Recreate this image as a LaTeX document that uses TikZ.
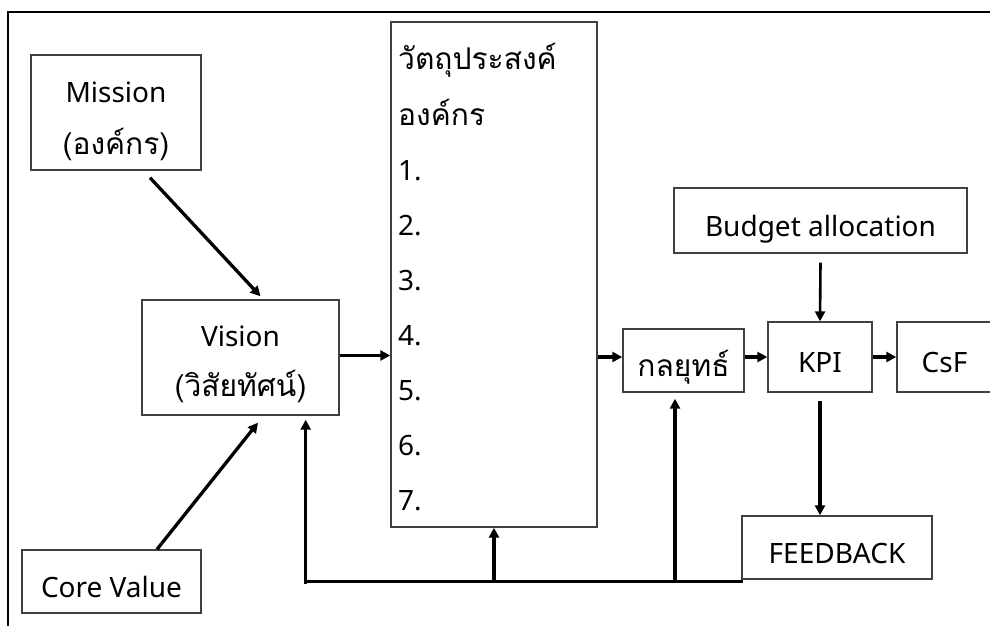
\documentclass[tikz,border=0pt]{standalone}
\usepackage{fontspec}
\setmainfont{Noto Sans}
\newfontfamily\thai[Script=Thai,Scale=1.07]{Loma}
\usetikzlibrary{arrows.meta}

\begin{document}
\begin{tikzpicture}[x=1pt,y=-1pt,
  box/.style={draw=black!75, line width=1.4pt, rectangle, inner sep=0pt,
    align=center, font=\fontsize{28}{34}\selectfont,
    text height=31pt, text depth=0pt},
  label/.style={inner sep=0pt, font=\fontsize{28}{34}\selectfont},
  arr/.style={line width=3.3pt, -{Triangle[length=10pt,width=10pt]}},
  fbline/.style={line width=3.4pt},
  frame/.style={line width=2.4pt}
]
\useasboundingbox (0,0) rectangle (990,626);

% partial outer frame
\draw[frame] (8,640) -- (8,12) -- (1000,12);

% boxes
\node[box, minimum width=170pt, minimum height=115pt] (mission) at (116,112.5) {};
\node[box, minimum width=197pt, minimum height=115pt] (vision) at (240.5,357.5) {};
\node[box, minimum width=179pt, minimum height=63pt] (core) at (111.5,581.5) {Core Value};
\node[box, minimum width=206pt, minimum height=505pt] (obj) at (494,274.5) {};
\node[box, minimum width=121pt, minimum height=63pt] (strategy) at (683.5,360.5)
  {\thai กลยุทธ์};
\node[box, minimum width=104pt, minimum height=70pt] (kpi) at (820,357) {KPI};
\node[box, minimum width=95pt, minimum height=70pt] (csf) at (944.5,357) {CsF};
\node[box, minimum width=293pt, minimum height=65pt] (budget) at (820.5,220.5)
  {Budget allocation};
\node[box, minimum width=190pt, minimum height=63pt] (feedback) at (837,547.5)
  {FEEDBACK};

% two-line captions
\node[label, anchor=base] (m1) at (mission.center |- 0,102) {Mission};
\node[label, anchor=base] (m2) at (mission.center |- 0,154) {\thai (องค์กร)};
\node[label, anchor=base] (v1) at (vision.center |- 0,346) {Vision};
\node[label, anchor=base] (v2) at (vision.center |- 0,396) {\thai (วิสัยทัศน์)};

% objective list
\node[label, anchor=base west] (t0) at (398,70) {\thai วัตถุประสงค์};
\node[label, anchor=base west] (t1) at (398,125) {\thai องค์กร};
\foreach \i in {1,...,7}{
  \node[label, anchor=base west] (n\i) at (398,125+55*\i) {\i.};
}

% arrows
\draw[arr] ([xshift=34pt,yshift=-7pt]mission.south) -- ([xshift=20pt,yshift=3pt]vision.north);
\draw[arr] ([xshift=45.5pt]core.north) -- ([xshift=17.5pt,yshift=-7pt]vision.south);
\draw[arr] ([yshift=2pt]vision.east) -- ([yshift=2pt]vision.east -| obj.west);
\draw[arr] (obj.east |- kpi.west) -- (strategy.west |- kpi.west);
\draw[arr] (strategy.east |- kpi.west) -- (kpi.west);
\draw[arr] (kpi.east) -- (csf.west);
\draw[arr, line width=2.6pt] ([yshift=-9pt]budget.south) -- (kpi.north);
\draw[arr] ([yshift=-8pt]kpi.south) -- (kpi.south |- feedback.north);

% feedback loop
\coordinate (loopR) at ([xshift=2pt,yshift=-2pt]feedback.south west);
\coordinate (loopA) at (obj.south |- loopR);
\coordinate (loopB) at ([xshift=-8.5pt]strategy.south |- loopR);
\draw[fbline] (loopR) -| ([xshift=-34pt,yshift=-9pt]vision.south east);
\draw[arr, line width=3.4pt] ([xshift=-34pt,yshift=-2pt]vision.south east |- loopR)
  -- ([xshift=-34pt,yshift=-4pt]vision.south east);
\draw[arr, line width=3.4pt] (loopA) -- (obj.south);
\draw[arr, line width=3.4pt] (loopB) -- ([yshift=-6pt]strategy.south -| loopB);
\end{tikzpicture}
\end{document}
